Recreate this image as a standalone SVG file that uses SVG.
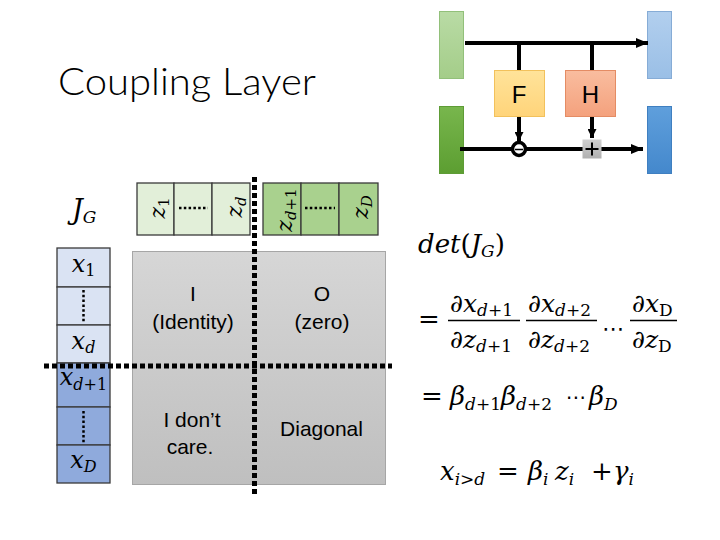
<svg xmlns="http://www.w3.org/2000/svg" width="720" height="540" viewBox="0 0 720 540">
<defs>
<linearGradient id="gLightGreen" x1="0" y1="0" x2="0" y2="1"><stop offset="0" stop-color="#b9dba5"/><stop offset="1" stop-color="#a4cd89"/></linearGradient>
<linearGradient id="gDarkGreen" x1="0" y1="0" x2="0" y2="1"><stop offset="0" stop-color="#78b64d"/><stop offset="1" stop-color="#5c9e31"/></linearGradient>
<linearGradient id="gLightBlue" x1="0" y1="0" x2="0" y2="1"><stop offset="0" stop-color="#b2cfee"/><stop offset="1" stop-color="#9abfe6"/></linearGradient>
<linearGradient id="gBlue" x1="0" y1="0" x2="0" y2="1"><stop offset="0" stop-color="#5f9fdc"/><stop offset="1" stop-color="#4488cc"/></linearGradient>
<linearGradient id="gF" x1="0" y1="0" x2="0" y2="1"><stop offset="0" stop-color="#ffe39a"/><stop offset="1" stop-color="#ffd47a"/></linearGradient>
<linearGradient id="gH" x1="0" y1="0" x2="0" y2="1"><stop offset="0" stop-color="#f9bd9f"/><stop offset="1" stop-color="#f4a17d"/></linearGradient>
<linearGradient id="gPlus" x1="0" y1="0" x2="0" y2="1"><stop offset="0" stop-color="#d0d0d0"/><stop offset="1" stop-color="#b0b0b0"/></linearGradient>
<linearGradient id="gGray" x1="0" y1="0" x2="0" y2="1"><stop offset="0" stop-color="#d6d6d6"/><stop offset="1" stop-color="#bfbfbf"/></linearGradient>
<marker id="ah" markerUnits="userSpaceOnUse" markerWidth="12" markerHeight="10" refX="12" refY="5" orient="auto"><path d="M0,0 L12,5 L0,10 z" fill="#000"/></marker>
<marker id="ahs" markerUnits="userSpaceOnUse" markerWidth="9" markerHeight="9" refX="9" refY="4.5" orient="auto"><path d="M0,0 L9,4.5 L0,9 z" fill="#000"/></marker>
</defs>
<style>
.conn{fill:none;stroke:#000;stroke-width:4}
.dash{fill:none;stroke:#000;stroke-width:5;stroke-dasharray:5 3}
.dots{fill:none;stroke:#000;stroke-width:2.5;stroke-dasharray:2.5 2.3}
.cell{stroke:#3a3a3a;stroke-width:1.3}
.zl{fill:#e2efd9}.zd{fill:#a9d18e}.xl{fill:#dae3f3}.xd{fill:#8faadc}
.sans{font-family:"Liberation Sans",Arial,sans-serif;fill:#000}
.m{font-family:"DejaVu Serif","Liberation Serif",serif;font-style:italic;fill:#000}
.up{font-style:normal}
.ell{font-family:"DejaVu Sans",sans-serif;font-style:normal;fill:#000}
.lbl{font-size:21px;text-anchor:middle}
</style>
<rect width="720" height="540" fill="#fff"/>
<text class="sans" x="58" y="95" font-size="38" textLength="258" lengthAdjust="spacingAndGlyphs" style="font-family:Lato,'Liberation Sans',sans-serif;font-weight:300">Coupling Layer</text>

<!-- network nodes -->
<g id="in-top"><rect x="439.5" y="11.5" width="24" height="67" fill="url(#gLightGreen)" stroke="#92c07a" stroke-width="1"/></g>
<g id="in-bottom"><rect x="439.5" y="106.5" width="24" height="67" fill="url(#gDarkGreen)" stroke="#5e9c36" stroke-width="1"/></g>
<g id="out-top"><rect x="647.5" y="11.5" width="24" height="67" fill="url(#gLightBlue)" stroke="#86acd6" stroke-width="1"/></g>
<g id="out-bottom"><rect x="647.5" y="106.5" width="24" height="67" fill="url(#gBlue)" stroke="#3f7fc0" stroke-width="1"/></g>

<g id="connectors">
<path class="conn" d="M465,43 H648" marker-end="url(#ah)"/>
<path class="conn" d="M519,43 V70"/>
<path class="conn" d="M592,43 V70"/>
<path class="conn" d="M519,117 V141" marker-end="url(#ahs)"/>
<path class="conn" d="M592,117 V138" marker-end="url(#ahs)"/>
<path class="conn" d="M460,149 H643" marker-end="url(#ah)"/>
</g>

<g id="F"><rect x="494.5" y="70.5" width="50" height="46" fill="url(#gF)" stroke="#f2c15c" stroke-width="1"/><text class="sans" x="519" y="103" font-size="24" text-anchor="middle">F</text></g>
<g id="H"><rect x="565.5" y="70.5" width="50" height="46" fill="url(#gH)" stroke="#e48c64" stroke-width="1"/><text class="sans" x="590.5" y="103" font-size="24" text-anchor="middle">H</text></g>
<g id="mul"><circle cx="519" cy="149" r="6.5" fill="#fff" stroke="#000" stroke-width="3.5"/><path d="M515,149.5 H523" stroke="#000" stroke-width="1.5"/></g>
<g id="add"><rect x="582.5" y="139.5" width="19" height="19" fill="url(#gPlus)"/><path d="M585.5,149 H598.5 M592,142.5 V155.5" stroke="#000" stroke-width="2"/></g>

<!-- Jacobian label -->
<text class="m" x="72" y="219" font-size="27">J<tspan font-size="17" dy="4">G</tspan></text>

<!-- z row -->
<g id="z-left">
<rect class="cell zl" x="137" y="183" width="37" height="52"/>
<rect class="cell zl" x="174" y="183" width="38" height="52"/>
<rect class="cell zl" x="212" y="183" width="38" height="52"/>
<path class="dots" d="M179,208 H208"/>
<text class="m" font-size="22" text-anchor="middle" transform="translate(165,208) rotate(-90)">z<tspan class="up" font-size="15" dy="4">1</tspan></text>
<text class="m" font-size="22" text-anchor="middle" transform="translate(242,207) rotate(-90)">z<tspan font-size="15" dy="4">d</tspan></text>
</g>
<g id="z-right">
<rect class="cell zd" x="263" y="183" width="38" height="52"/>
<rect class="cell zd" x="301" y="183" width="38" height="52"/>
<rect class="cell zd" x="339" y="183" width="39" height="52"/>
<path class="dots" d="M305,208 H335"/>
<text class="m" font-size="22" text-anchor="middle" transform="translate(292,210) rotate(-90)">z<tspan font-size="15" dy="4">d</tspan><tspan class="up" font-size="15">+1</tspan></text>
<text class="m" font-size="22" text-anchor="middle" transform="translate(368,207) rotate(-90)">z<tspan font-size="15" dy="4">D</tspan></text>
</g>

<!-- x column -->
<g id="x-top">
<rect class="cell xl" x="57" y="248" width="53" height="39"/>
<rect class="cell xl" x="57" y="287" width="53" height="38"/>
<rect class="cell xl" x="57" y="325" width="53" height="38"/>
<path class="dots" d="M83.5,290 V322"/>
<text class="m" x="83.5" y="272" font-size="24" text-anchor="middle">x<tspan class="up" font-size="16" dy="4">1</tspan></text>
<text class="m" x="83.5" y="349" font-size="24" text-anchor="middle">x<tspan font-size="16" dy="4">d</tspan></text>
</g>
<g id="x-bottom">
<rect class="cell xd" x="57" y="363" width="53" height="44"/>
<rect class="cell xd" x="57" y="407" width="53" height="38"/>
<rect class="cell xd" x="57" y="445" width="53" height="38"/>
<path class="dots" d="M83.5,411 V443"/>
<text class="m" x="83.5" y="385" font-size="24" text-anchor="middle">x<tspan font-size="16" dy="5">d</tspan><tspan class="up" font-size="16">+1</tspan></text>
<text class="m" x="83.5" y="468" font-size="24" text-anchor="middle">x<tspan font-size="16" dy="4">D</tspan></text>
</g>

<!-- matrix -->
<g id="matrix">
<rect x="132.5" y="251.5" width="253" height="233" fill="url(#gGray)" stroke="#a6a6a6" stroke-width="1"/>
<text class="sans lbl" x="193" y="301">I</text>
<text class="sans lbl" x="193" y="329">(Identity)</text>
<text class="sans lbl" x="322" y="301">O</text>
<text class="sans lbl" x="322" y="329">(zero)</text>
<text class="sans lbl" x="192" y="427">I don’t</text>
<text class="sans lbl" x="190" y="454">care.</text>
<text class="sans lbl" x="321.5" y="436">Diagonal</text>
</g>

<g id="dividers">
<path class="dash" d="M254.5,177 V495"/>
<path class="dash" d="M44,366 H392"/>
</g>

<!-- equations -->
<g id="eq-det">
<text class="m" x="418" y="253" font-size="26">det<tspan class="up">(</tspan>J<tspan font-size="17" dy="4">G</tspan><tspan class="up" dy="-4">)</tspan></text>
</g>
<g id="eq-frac">
<text class="m up" x="418" y="328" font-size="26">=</text>
<text class="m" x="450" y="312" font-size="25">∂x<tspan font-size="17" dy="4">d</tspan><tspan class="up" font-size="17">+1</tspan></text>
<path d="M448,320.5 H520" stroke="#000" stroke-width="1.3"/>
<text class="m" x="450" y="348" font-size="25">∂z<tspan font-size="17" dy="4">d</tspan><tspan class="up" font-size="17">+1</tspan></text>
<text class="m" x="528" y="312" font-size="25">∂x<tspan font-size="17" dy="4">d</tspan><tspan class="up" font-size="17">+2</tspan></text>
<path d="M526,320.5 H597" stroke="#000" stroke-width="1.3"/>
<text class="m" x="528" y="348" font-size="25">∂z<tspan font-size="17" dy="4">d</tspan><tspan class="up" font-size="17">+2</tspan></text>
<text class="ell" x="602" y="336" font-size="22">⋯</text>
<text class="m" x="632" y="312" font-size="25">∂x<tspan class="up" font-size="17" dy="4">D</tspan></text>
<path d="M630,320.5 H677" stroke="#000" stroke-width="1.3"/>
<text class="m" x="632" y="348" font-size="25">∂z<tspan class="up" font-size="17" dy="4">D</tspan></text>
</g>
<g id="eq-beta">
<text class="m up" x="421" y="405" font-size="26">=</text>
<text class="m" x="450" y="405" font-size="26">β<tspan font-size="17" dy="5">d</tspan><tspan class="up" font-size="17">+1</tspan><tspan dy="-5">β</tspan><tspan font-size="17" dy="5">d</tspan><tspan class="up" font-size="17">+2</tspan></text>
<text class="ell" x="566" y="404" font-size="20">⋯</text>
<text class="m" x="589" y="405" font-size="26">β<tspan font-size="17" dy="5">D</tspan></text>
</g>
<g id="eq-affine">
<text class="m" x="440" y="480" font-size="26">x<tspan font-size="17" dy="5">i</tspan><tspan class="up" font-size="17">&gt;</tspan><tspan font-size="17">d</tspan></text>
<text class="m up" x="497" y="480" font-size="26">=</text>
<text class="m" x="528" y="480" font-size="26">β<tspan font-size="17" dy="5">i</tspan></text>
<text class="m" x="555" y="480" font-size="26">z<tspan font-size="17" dy="5">i</tspan></text>
<text class="m up" x="591" y="480" font-size="26">+</text>
<text class="m" x="613" y="480" font-size="26">γ<tspan font-size="17" dy="5">i</tspan></text>
</g>
</svg>
